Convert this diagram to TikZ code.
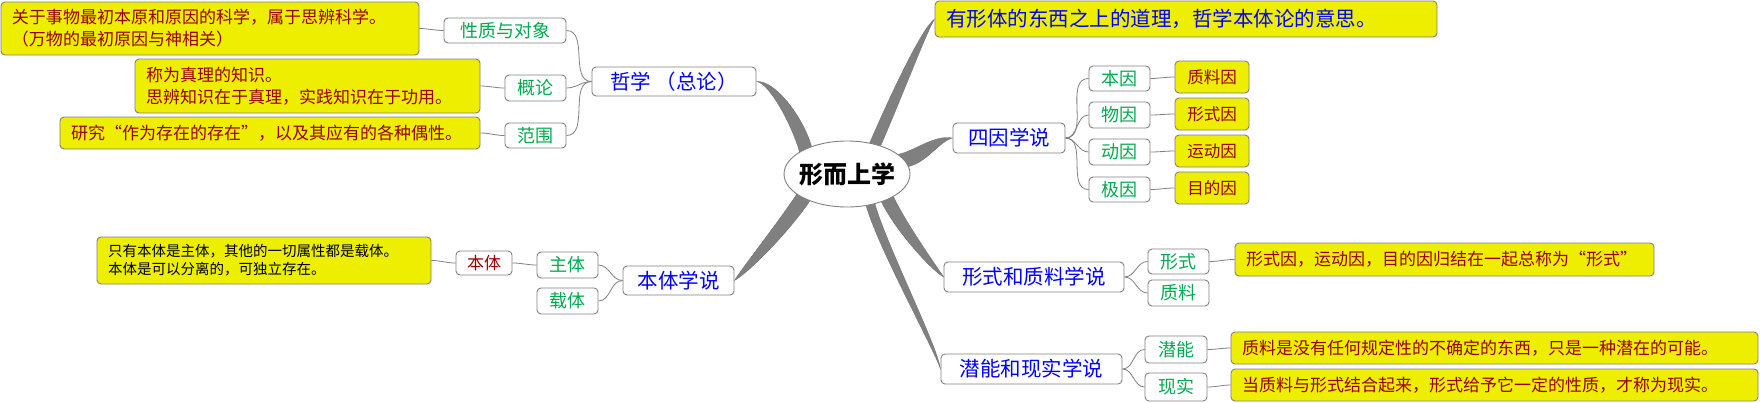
\documentclass[tikz,border=0pt]{standalone}
\usepackage{fontspec}
\setmainfont{Noto Sans CJK SC}
\usetikzlibrary{calc,shapes.geometric}
\pgfdeclarelayer{bg}
\pgfsetlayers{bg,main}
\definecolor{ybox}{RGB}{238,238,0}
\definecolor{bord}{RGB}{128,128,128}
\definecolor{lblue}{RGB}{0,0,255}
\definecolor{lgreen}{RGB}{0,170,80}
\definecolor{dred}{RGB}{153,0,0}
\definecolor{brgray}{RGB}{128,128,128}
\tikzset{
  wbox/.style={draw=bord, line width=0.9pt, rounded corners=4pt, fill=white, inner sep=0pt, align=center},
  ybx/.style={draw=bord, line width=0.9pt, rounded corners=4pt, fill=ybox, inner xsep=11pt, inner ysep=0pt, align=left, text=dred, font=\fontsize{17}{22}\selectfont},
  ysm/.style={ybx, align=center, inner xsep=0pt, minimum width=74, text width=74, minimum height=32, font=\fontsize{16.5}{20}\selectfont},
  lone/.style={wbox, text=lblue, font=\fontsize{20.5}{24}\selectfont},
  ltwo/.style={wbox, text=lgreen, font=\fontsize{18}{20}\selectfont},
  thinc/.style={draw=bord, line width=0.8pt},
}
% tapered ribbon: #1,#2 base points, #3 start control offset, #4 end point, #5 end control offset
\newcommand\mybranch[5]{%
  \coordinate (ba) at (#1);
  \coordinate (bb) at (#2);
  \coordinate (bm) at ($(ba)!0.5!(bb)$);
  \coordinate (be) at (#4);
  \fill[brgray, draw=brgray!85!black, line width=0.3pt] (ba) .. controls ($(ba)+(#3)$) and ($(be)+(#5)+0.55*(ba)-0.55*(bm)$) .. (be)
     .. controls ($(be)+(#5)+0.55*(bb)-0.55*(bm)$) and ($(bb)+(#3)$) .. (bb) -- cycle;}
\begin{document}
\begin{tikzpicture}[x=1pt,y=-1pt]
\useasboundingbox (0,0) rectangle (1760,402);

% centre
\node[ellipse, draw=bord, fill=white, line width=0.9pt, minimum width=126, minimum height=66, inner sep=0pt,
      font=\fontsize{24}{24}\selectfont\bfseries] (c) at (847,174) {\makebox[80pt]{形而上学}};

% left upper: philosophy
\node[lone, minimum width=164, minimum height=29] (phil) at (674,81.5) {哲学 （总论）};
\node[ltwo, minimum width=122, minimum height=25] (xz) at (505,30.5) {性质与对象};
\node[ltwo, minimum width=61, minimum height=26] (gl) at (535.5,88) {概论};
\node[ltwo, minimum width=61, minimum height=25] (fw) at (535.5,135.5) {范围};
\node[ybx, text width=396, minimum height=53] (y1) at (210,28.5)
  {关于事物最初本原和原因的科学，属于思辨科学。\\（万物的最初原因与神相关）};
\node[ybx, text width=323, minimum height=54] (y2) at (307.5,86)
  {称为真理的知识。\\思辨知识在于真理，实践知识在于功用。};
\node[ybx, text width=398, minimum height=32] (y3) at (270,133)
  {研究“作为存在的存在”，以及其应有的各种偶性。};

% left lower: ontology
\node[lone, minimum width=111, minimum height=29] (bt) at (678.5,280.5) {本体学说};
\node[ltwo, minimum width=61, minimum height=26] (zt) at (567.5,265) {主体};
\node[ltwo, minimum width=61, minimum height=26] (zai) at (567.5,301) {载体};
\node[wbox, text=dred, font=\fontsize{17}{20}\selectfont, minimum width=56, minimum height=24] (bt2) at (484,263) {本体};
\node[ybx, text=black, font=\fontsize{14.5}{18}\selectfont, text width=312, minimum height=47] (y4) at (264,260.5)
  {只有本体是主体，其他的一切属性都是载体。\\本体是可以分离的，可独立存在。};

% right top
\node[ybx, text=lblue, font=\fontsize{20.5}{24}\selectfont, text width=480, minimum height=36] (top) at (1186,19)
  {有形体的东西之上的道理，哲学本体论的意思。};

% four causes
\node[lone, minimum width=112, minimum height=30] (sy) at (1009,138) {四因学说};
\node[ltwo, minimum width=61, minimum height=25] (by) at (1119.5,78.5) {本因};
\node[ltwo, minimum width=61, minimum height=26] (wy) at (1119.5,115) {物因};
\node[ltwo, minimum width=61, minimum height=26] (dy) at (1119.5,152) {动因};
\node[ltwo, minimum width=61, minimum height=25] (jy) at (1119.5,189.5) {极因};
\node[ysm] (q1) at (1212,77) {质料因};
\node[ysm] (q2) at (1212,114) {形式因};
\node[ysm] (q3) at (1212,151) {运动因};
\node[ysm] (q4) at (1212,188) {目的因};

% form and matter
\node[lone, minimum width=180, minimum height=30] (xs) at (1034,277) {形式和质料学说};
\node[ltwo, minimum width=61, minimum height=25] (xshi) at (1178.5,261.5) {形式};
\node[ltwo, minimum width=61, minimum height=26] (zl) at (1178.5,293) {质料};
\node[ybx, text width=397, minimum height=33] (yx) at (1444.5,259.5)
  {形式因，运动因，目的因归结在一起总称为“形式”};

% potentiality and actuality
\node[lone, minimum width=181, minimum height=30] (qn) at (1031.5,369) {潜能和现实学说};
\node[ltwo, minimum width=62, minimum height=27] (qn2) at (1176,349.5) {潜能};
\node[ltwo, minimum width=62, minimum height=28] (xsh) at (1176,387) {现实};
\node[ybx, text width=505, minimum height=32] (yq1) at (1494.5,348)
  {质料是没有任何规定性的不确定的东西，只是一种潜在的可能。};
\node[ybx, text width=505, minimum height=32] (yq2) at (1494.5,385)
  {当质料与形式结合起来，形式给予它一定的性质，才称为现实。};

\begin{pgfonlayer}{bg}
  % thick tapered main branches
  \mybranch{c.142}{c.155}{-8,-28}{phil.east}{16,0}
  \mybranch{c.40}{c.54}{20,-46}{top.west}{-10,10}
  \mybranch{c.7}{c.21}{18,-4}{sy.west}{-16,0}
  \mybranch{c.202}{c.216}{-20,30}{bt.east}{10,-9}
  \mybranch{c.-26}{c.-39}{12,26}{xs.west}{-10,-9}
  \mybranch{c.-47}{c.-59}{12,42}{qn.west}{-6,-24}
  % thin connectors
  \draw[thinc] (phil.west) to[out=180,in=0] (xz.east);
  \draw[thinc] (phil.west) to[out=180,in=0] (gl.east);
  \draw[thinc] (phil.west) to[out=180,in=0] (fw.east);
  \draw[thinc] (xz.west) to[out=180,in=0] (y1.east);
  \draw[thinc] (gl.west) to[out=180,in=0] (y2.east);
  \draw[thinc] (fw.west) to[out=180,in=0] (y3.east);
  \draw[thinc] (bt.west) to[out=180,in=0] (zt.east);
  \draw[thinc] (bt.west) to[out=180,in=0] (zai.east);
  \draw[thinc] (zt.west) to[out=180,in=0] (bt2.east);
  \draw[thinc] (bt2.west) to[out=180,in=0] (y4.east);
  \foreach \k/\q in {by/q1,wy/q2,dy/q3,jy/q4}{
    \draw[thinc] (sy.east) to[out=0,in=180] (\k.west);
    \draw[thinc] (\k.east) to[out=0,in=180] (\q.west);
  }
  \draw[thinc] (xs.east) to[out=0,in=180] (xshi.west);
  \draw[thinc] (xs.east) to[out=0,in=180] (zl.west);
  \draw[thinc] (xshi.east) to[out=0,in=180] (yx.west);
  \draw[thinc] (qn.east) to[out=0,in=180] (qn2.west);
  \draw[thinc] (qn.east) to[out=0,in=180] (xsh.west);
  \draw[thinc] (qn2.east) to[out=0,in=180] (yq1.west);
  \draw[thinc] (xsh.east) to[out=0,in=180] (yq2.west);
\end{pgfonlayer}
\end{tikzpicture}
\end{document}
